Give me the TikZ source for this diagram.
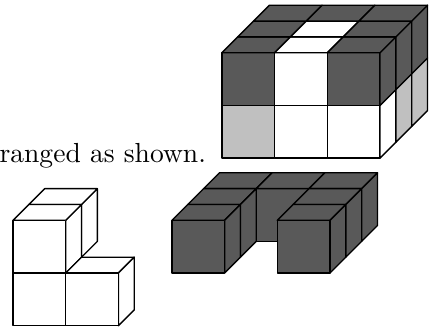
\documentclass[tikz,border=0pt]{standalone}
\usepackage{tikz}
\definecolor{dark}{HTML}{595959}
\definecolor{light}{HTML}{C0C0C0}
\tikzset{face/.style={draw=black,line width=.5pt,line join=round}}
\begin{document}
\begin{tikzpicture}[x={(19.5pt,0pt)},y={(0pt,19.5pt)},z={(5.86pt,5.86pt)}]
        \useasboundingbox (0pt,0pt) rectangle (159.84pt,120.62pt);
        \node[anchor=base east,inner sep=0pt,font=\fontsize{10.2}{12}\selectfont] (caption) at (76.4pt,60.6pt){ranged as shown.};
        % painted box
        \begin{scope}[shift={(82.1pt,62.1pt)}]
          \foreach \x/\y/\c in {0/0/light,1/0/white,2/0/white,0/1/dark,1/1/white,2/1/dark}
            {\filldraw[face,fill=\c] (\x,\y,0)--(\x+1,\y,0)--(\x+1,\y+1,0)--(\x,\y+1,0)--cycle;}
          \foreach \z/\y/\c in {0/0/white,1/0/light,2/0/light,0/1/dark,1/1/dark,2/1/dark}
            {\filldraw[face,fill=\c] (3,\y,\z)--(3,\y,\z+1)--(3,\y+1,\z+1)--(3,\y+1,\z)--cycle;}
          \foreach \x/\z/\c in {0/0/dark,1/0/white,2/0/dark,0/1/dark,1/1/white,2/1/dark,0/2/dark,1/2/dark,2/2/dark}
            {\filldraw[face,fill=\c] (\x,2,\z)--(\x+1,2,\z)--(\x+1,2,\z+1)--(\x,2,\z+1)--cycle;}
        \end{scope}
        % u-shaped piece
        \begin{scope}[shift={(63.6pt,19.6pt)}]
          \filldraw[face,fill=dark] (1,0,2)--(2,0,2)--(2,1,2)--(1,1,2)--cycle;
          \foreach \x/\z in {0/2,1/2,2/2,0/1,2/1,0/0,2/0}
            {\filldraw[face,fill=dark] (\x,1,\z)--(\x+1,1,\z)--(\x+1,1,\z+1)--(\x,1,\z+1)--cycle;}
          \foreach \x/\z in {1/0,1/1,3/0,3/1,3/2}
            {\filldraw[face,fill=dark] (\x,0,\z)--(\x,0,\z+1)--(\x,1,\z+1)--(\x,1,\z)--cycle;}
          \foreach \x in {0,2}{\filldraw[face,fill=dark] (\x,0,0)--(\x+1,0,0)--(\x+1,1,0)--(\x,1,0)--cycle;}
        \end{scope}
        % small stack
        \begin{scope}[shift={(4.8pt,.1pt)}]
          \foreach \z in {1,0}{\filldraw[face,fill=white] (1,1,\z)--(1,1,\z+1)--(1,2,\z+1)--(1,2,\z)--cycle;}
          \foreach \z in {1,0}{\filldraw[face,fill=white] (0,2,\z)--(1,2,\z)--(1,2,\z+1)--(0,2,\z+1)--cycle;}
          \filldraw[face,fill=white] (1,1,0)--(2,1,0)--(2,1,1)--(1,1,1)--cycle;
          \filldraw[face,fill=white] (2,0,0)--(2,0,1)--(2,1,1)--(2,1,0)--cycle;
          \foreach \x/\y in {0/0,1/0,0/1}
            {\filldraw[face,fill=white] (\x,\y,0)--(\x+1,\y,0)--(\x+1,\y+1,0)--(\x,\y+1,0)--cycle;}
        \end{scope}
      \end{tikzpicture}
\end{document}
